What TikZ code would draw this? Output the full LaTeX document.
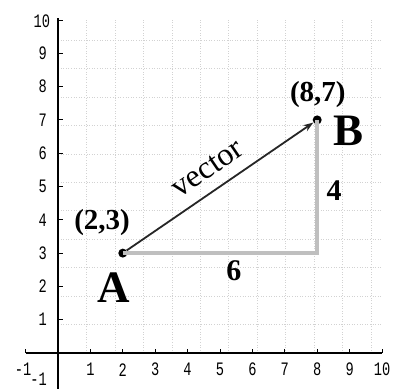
\documentclass[tikz,border=0pt]{standalone}
\usepackage{fontspec}
\setmainfont{Liberation Serif}
\newfontfamily\axfont{Liberation Mono}
\usetikzlibrary{arrows.meta}
\begin{document}
\begin{tikzpicture}[x=32.4pt,y=33.3pt,
  gridline/.style={gray!35, dotted, line width=0.6pt},
  axisline/.style={black, line width=1.4pt},
  tickmark/.style={black, line width=1pt},
  ticknum/.style={font=\axfont\fontsize{19}{19}\selectfont, xscale=0.72, inner sep=0pt},
  comp/.style={gray!50, line width=3.5pt},
  dotpt/.style={circle, fill=black, inner sep=0pt, minimum size=9pt},
  coordlab/.style={font=\bfseries\fontsize{29}{29}\selectfont, inner sep=0pt},
  biglab/.style={font=\bfseries\fontsize{45}{45}\selectfont, inner sep=0pt},
  numlab/.style={font=\bfseries\fontsize{30}{30}\selectfont, inner sep=0pt}]
\useasboundingbox (-1.790,-1.111) rectangle (10.432,10.601);
\fill[white] (-1.790,-1.111) rectangle (10.432,10.601);
% grid
\draw[gridline] (0,0) grid (10,10);
% axes
\coordinate (xl) at (-1,0);
\coordinate (xr) at (10,0);
\coordinate (yb) at (0,-1.08);
\coordinate (yt) at (0,10.05);
\draw[axisline] (xl) -- (xr);
\draw[axisline] (yb) -- (yt);
\foreach \i in {-1,1,2,...,10} \draw[tickmark] (\i,0) -- ++(0,4pt);
\foreach \j in {1,...,10} \draw[tickmark] (0,\j) -- ++(5pt,0);
% tick labels
\foreach \i in {1,...,10} \node[ticknum] (xn\i) at (\i,-0.5) {\i};
\node[ticknum] (xnm) at (-1.08,-0.5) {-1};
\foreach \j in {1,...,9} \node[ticknum] (yn\j) at (-0.47,\j) {\j};
\node[ticknum] (yn10) at (-0.5,9.95) {10};
\node[ticknum] (ynm) at (-0.6,-0.8) {-1};
% points
\node[dotpt] (A) at (2,3) {};
\node[dotpt] (B) at (8,7) {};
\coordinate (C) at (8,3);
\draw[comp] (A.center) -- (C) -- (B.center);
\draw[line width=1.8pt, black!85, -{Stealth[length=10pt,width=7pt]}] (A) -- (B)
  node[midway, sloped, above=12pt, inner sep=0pt, font=\fontsize{32}{32}\selectfont, text=black] (vec) {vector};
% labels
\node[coordlab] (la) at (1.36,3.93) {(2,3)};
\node[coordlab] (lb) at (8.02,7.75) {(8,7)};
\node[biglab] (nA) at (1.73,1.95) {A};
\node[biglab] (nB) at (8.98,6.67) {B};
\node[numlab] (n4) at (8.52,4.89) {4};
\node[numlab] (n6) at (5.43,2.46) {6};
\end{tikzpicture}
\end{document}
